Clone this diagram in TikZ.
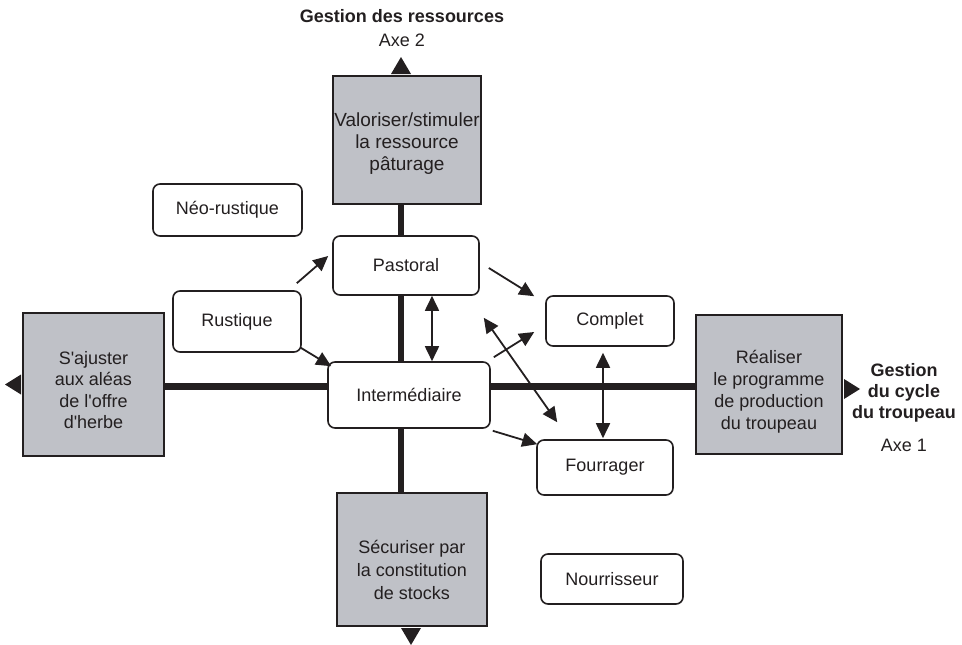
\documentclass[tikz,border=0pt]{standalone}
\usepackage{fontspec}
\setmainfont{Liberation Sans}
\usetikzlibrary{arrows.meta}
\definecolor{ink}{RGB}{35,31,32}
\definecolor{greyfill}{RGB}{191,193,199}
\begin{document}
\begin{tikzpicture}[x=1pt,y=-1pt,
  basefont/.style={font=\fontsize{18}{21.5}\selectfont},
  basefont, text=ink,
  greybox/.style={draw=ink, line width=2pt, fill=greyfill, inner sep=0pt, align=center},
  roundbox/.style={draw=ink, line width=1.6pt, fill=white, rounded corners=7pt, inner sep=0pt, align=center},
  hbar/.style={draw=ink, line width=7pt},
  vbar/.style={draw=ink, line width=6pt},
  arr/.style={draw=ink, line width=1.8pt, -{Triangle[length=15pt,width=14pt]}},
  darr/.style={draw=ink, line width=1.8pt, {Triangle[length=15pt,width=14pt]}-{Triangle[length=15pt,width=14pt]}},
  tri/.style={fill=ink},
  boldlabel/.style={font=\fontsize{18}{21}\selectfont\bfseries, align=center, inner sep=0pt}]
\useasboundingbox (0,0) rectangle (962,645);

% grey boxes
\node[greybox, minimum width=148pt, minimum height=128pt] (top) at (407,140)
  {\raisebox{13.3pt}[0pt][0pt]{\fontsize{19}{21.7}\selectfont\begin{tabular}[t]{@{}c@{}}Valoriser/stimuler\\la ressource\\pâturage\end{tabular}}};
\node[greybox, minimum width=141pt, minimum height=143pt] (lft) at (93.5,384.5)
  {\raisebox{20.5pt}[0pt][0pt]{\fontsize{18}{21.5}\selectfont\begin{tabular}[t]{@{}c@{}}S\textquotesingle ajuster\\aux aléas\\de l\textquotesingle offre\\d\textquotesingle herbe\end{tabular}}};
\node[greybox, minimum width=146pt, minimum height=139pt] (rgt) at (769,384.5)
  {\raisebox{21.2pt}[0pt][0pt]{\fontsize{18}{21.9}\selectfont\begin{tabular}[t]{@{}c@{}}Réaliser\\le programme\\de production\\du troupeau\end{tabular}}};
\node[greybox, minimum width=150pt, minimum height=133pt] (bot) at (412,559.5)
  {\raisebox{6.2pt}[0pt][0pt]{\fontsize{18}{23.3}\selectfont\begin{tabular}[t]{@{}c@{}}Sécuriser par\\la constitution\\de stocks\end{tabular}}};

% axes
\draw[hbar] ([yshift=-2pt]lft.east) -- ([yshift=-2pt]rgt.west);
\draw[vbar] ([xshift=-6pt]top.south) -- ([xshift=-11pt]bot.north);

% axis triangles
\fill[tri] ([xshift=-6pt,yshift=1pt]top.north) ++(-10pt,0pt) -- ++(20pt,0pt) -- ++(-10pt,17pt) -- cycle;
\fill[tri] ([xshift=-1pt]lft.west) ++(0pt,10pt) -- ++(0pt,-20pt) -- ++(-16pt,10pt) -- cycle;
\fill[tri] ([xshift=1pt,yshift=-4.5pt]rgt.east) ++(0pt,10pt) -- ++(0pt,-20pt) -- ++(16pt,10pt) -- cycle;
\fill[tri] ([xshift=-1pt,yshift=-1pt]bot.south) ++(-10pt,0pt) -- ++(20pt,0pt) -- ++(-10pt,-17pt) -- cycle;

% axis labels
\node[boldlabel] (g2) at (402,16) {Gestion des ressources};
\node[inner sep=0pt] (a2) at (402,40) {Axe 2};
\node[boldlabel] (g1) at (904,393) {Gestion\\du cycle\\du troupeau};
\node[inner sep=0pt] (a1) at (904,445) {Axe 1};

% rounded boxes
\node[roundbox, minimum width=149pt, minimum height=52pt] (neo) at (227.5,210) {Néo-rustique};
\node[roundbox, minimum width=146pt, minimum height=59pt] (pas) at (406,265.5) {Pastoral};
\node[roundbox, minimum width=128pt, minimum height=61pt] (rus) at (237,321.5) {Rustique};
\node[roundbox, minimum width=162pt, minimum height=66pt] (int) at (409,395) {Intermédiaire};
\node[roundbox, minimum width=128pt, minimum height=50pt] (com) at (610,321) {Complet};
\node[roundbox, minimum width=136pt, minimum height=55pt] (fou) at (605,467.5) {Fourrager};
\node[roundbox, minimum width=142pt, minimum height=50pt] (nou) at (612,579) {Nourrisseur};

% connectors
\draw[arr] ([xshift=-5pt,yshift=7pt]rus.north east) -- ([xshift=-4pt,yshift=9.5pt]pas.west);
\draw[arr] ([xshift=-1pt,yshift=5pt]rus.south east) -- ([xshift=4pt,yshift=-5pt]int.north west);
\draw[darr] ([xshift=26pt]pas.south) -- ([xshift=23pt]int.north);
\draw[arr] ([xshift=9pt,yshift=-2.5pt]pas.east) -- ([xshift=-11pt,yshift=-1pt]com.north west);
\draw[arr] ([xshift=3pt,yshift=4pt]int.north east) -- ([xshift=-11pt,yshift=-11pt]com.west);
\draw[darr] ([xshift=4pt,yshift=-22pt]pas.south east) -- ([xshift=21pt,yshift=17pt]fou.north west);
\draw[arr] ([xshift=2pt,yshift=-2pt]int.south east) -- ([xshift=1pt,yshift=-5pt]fou.north west);
\draw[darr] ([xshift=-7pt,yshift=-6pt]com.south) -- ([xshift=-2pt,yshift=1pt]fou.north);
\end{tikzpicture}
\end{document}
